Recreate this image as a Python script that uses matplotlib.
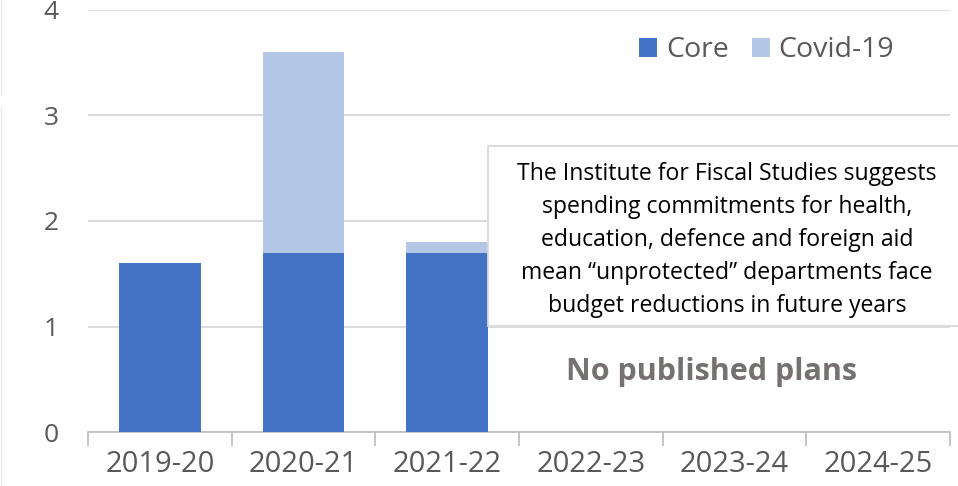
import matplotlib.pyplot as plt
import numpy as np
from matplotlib.patches import Rectangle
from matplotlib.lines import Line2D

# data (£bn)
years = ['2019-20', '2020-21', '2021-22', '2022-23', '2023-24', '2024-25']
core = [1.6, 1.7, 1.7, 0, 0, 0]
covid = [0, 1.9, 0.1, 0, 0, 0]

note = ('The Institute for Fiscal Studies suggests\n'
        'spending commitments for health,\n'
        'education, defence and foreign aid\n'
        'mean \u201cunprotected\u201d departments face\n'
        'budget reductions in future years')

plt.rcParams['font.family'] = ['Open Sans', 'DejaVu Sans']

fig = plt.figure(figsize=(9.58, 4.86), dpi=100)
ax = fig.add_axes([88/958, 1-432/486, (950-88)/958, (432-10)/486])

x = np.arange(len(years))
ax.bar(x, core, width=0.57, color='#4472C4', label='Core', zorder=3)
ax.bar(x, covid, width=0.57, bottom=core, color='#B4C7E7', label='Covid-19', zorder=3)

ax.set_xlim(-0.5, 5.5)
ax.set_ylim(0, 4)
ax.set_yticks([0, 1, 2, 3, 4])
ax.set_xticks(x)
ax.set_xticklabels(years)

# grid + axes styling
ax.grid(axis='y', color='#d9d9d9', linewidth=1.3, zorder=0)
for s in ['top', 'right', 'left']:
    ax.spines[s].set_visible(False)
ax.spines['bottom'].set_color('#bfbfbf')
ax.spines['bottom'].set_linewidth(1.3)
ax.tick_params(axis='y', length=0, labelsize=19, labelcolor='#595959', pad=21)
ax.tick_params(axis='x', length=0, labelsize=21, labelcolor='#595959', pad=13)
# category boundary tick marks
ax.set_xticks(np.arange(-0.5, 6, 1), minor=True)
ax.tick_params(axis='x', which='minor', length=10, color='#bfbfbf', width=1.3)

leg = ax.legend(loc='upper right', bbox_to_anchor=(0.965, 0.998), ncol=2, frameon=False,
                fontsize=20.5, handlelength=0.65, handleheight=0.65, handletextpad=0.3,
                columnspacing=0.8, labelcolor='#595959')

# note box over the right part of the plot
box = Rectangle((488/958, 1-326/486), 0.6, (326-146)/486, transform=fig.transFigure,
                facecolor='white', edgecolor='#d9d9d9', linewidth=1.3, zorder=2)
fig.add_artist(box)
fig.text(727/958, 1-240/486, note, ha='center', va='center', fontsize=16.6,
         color='black', linespacing=1.5, zorder=3)
fig.text(712/958, 1-372/486, 'No published plans', ha='center', va='center',
         fontsize=22, fontweight='bold', color='#767171')

# faint frame line at left edge of the original image
fig.add_artist(Line2D([1/958, 1/958], [1, 1-95/486], transform=fig.transFigure,
                      color='#e6e6e6', linewidth=1))
fig.add_artist(Line2D([1/958, 1/958], [1-108/486, 0], transform=fig.transFigure,
                      color='#e6e6e6', linewidth=1))

plt.savefig('out.png', dpi=100)
